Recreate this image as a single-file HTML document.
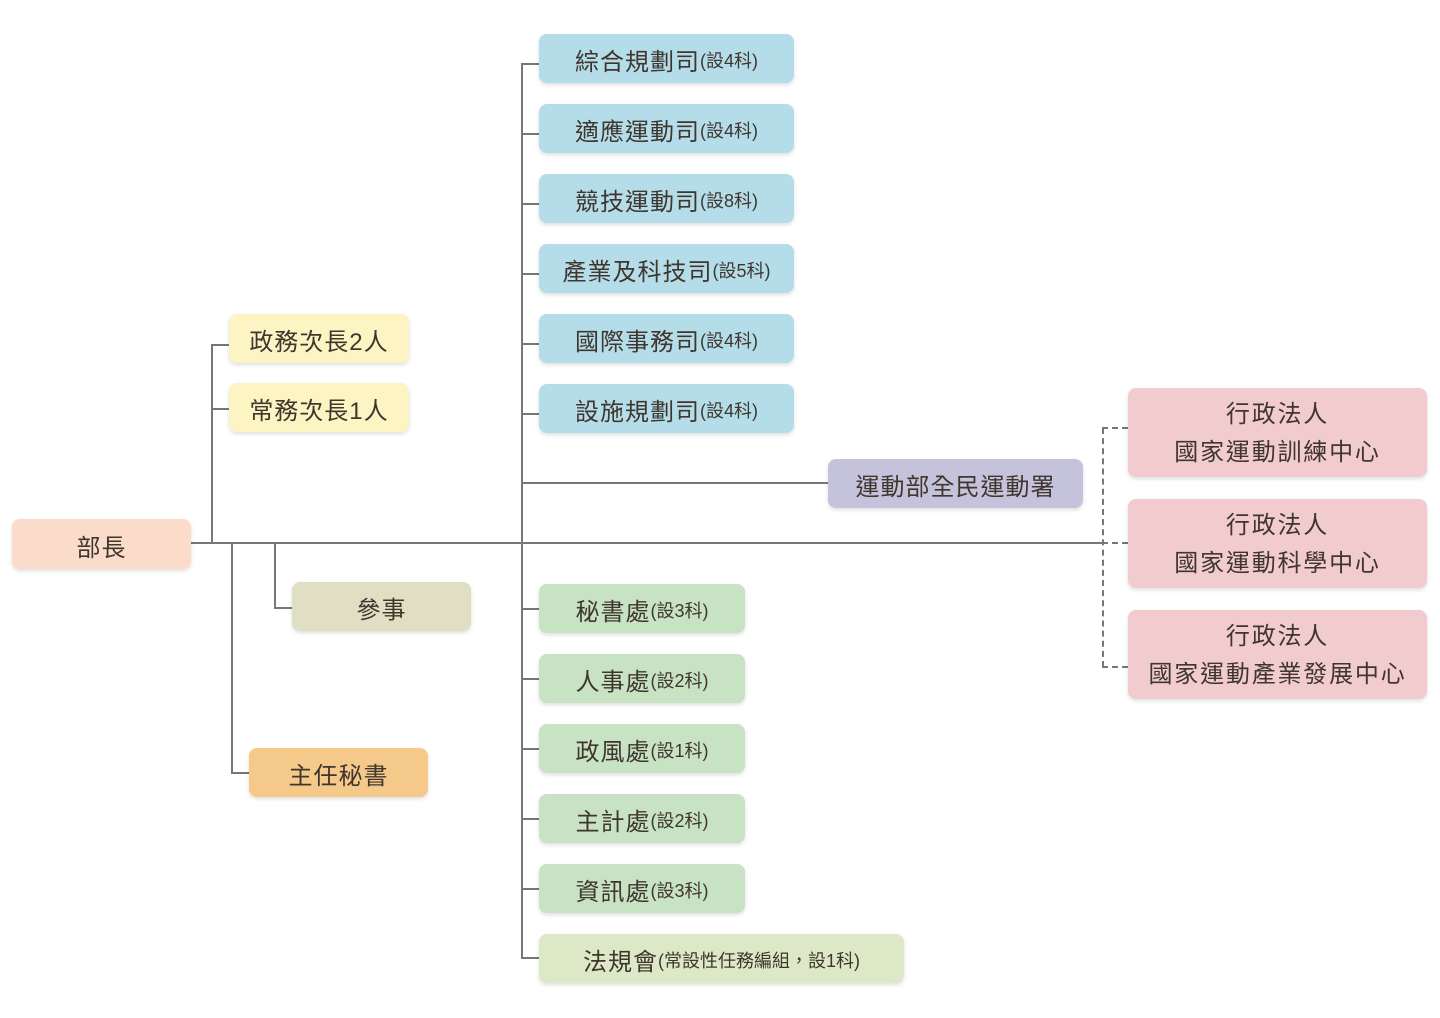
<!DOCTYPE html>
<html><head><meta charset="utf-8"><style>
body{margin:0;width:1440px;height:1018px;background:#fff;position:relative;overflow:hidden;font-family:"Liberation Sans","Noto Sans CJK TC",sans-serif;color:#3f362e}
.b{position:absolute;border-radius:8px;box-shadow:0 2px 4px rgba(0,0,0,.13);display:flex;align-items:center;justify-content:center;font-size:24px;letter-spacing:1px;white-space:nowrap;font-weight:normal;padding-top:2px;box-sizing:border-box}
.b small{font-size:18px;letter-spacing:0}
.h{position:absolute;height:2px;background:#777}
.v{position:absolute;width:2px;background:#777}
.dh{position:absolute;height:0;border-top:2px dashed #777}
.dv{position:absolute;width:0;border-left:2px dashed #777}
.bl{background:#b5dde9;left:539px;width:255px;height:49px}
.gr{background:#c8e2c4;left:539px;width:206px;height:49px}
.pk{background:#f2cbcf;left:1128px;width:299px;height:89px;flex-direction:column;line-height:38px;letter-spacing:1.8px}
</style></head><body>
<div class="h" style="left:191px;top:542px;width:912px"></div>
<div class="v" style="left:211px;top:344px;height:199px"></div>
<div class="h" style="left:211px;top:344px;width:18px"></div>
<div class="h" style="left:211px;top:408px;width:18px"></div>
<div class="v" style="left:231px;top:543px;height:231px"></div>
<div class="h" style="left:231px;top:772px;width:18px"></div>
<div class="v" style="left:274px;top:543px;height:66px"></div>
<div class="h" style="left:274px;top:607px;width:18px"></div>
<div class="v" style="left:521px;top:63px;height:896px"></div>
<div class="h" style="left:521px;top:63px;width:18px"></div>
<div class="h" style="left:521px;top:133px;width:18px"></div>
<div class="h" style="left:521px;top:203px;width:18px"></div>
<div class="h" style="left:521px;top:273px;width:18px"></div>
<div class="h" style="left:521px;top:343px;width:18px"></div>
<div class="h" style="left:521px;top:413px;width:18px"></div>
<div class="h" style="left:521px;top:482px;width:307px"></div>
<div class="h" style="left:521px;top:608px;width:18px"></div>
<div class="h" style="left:521px;top:678px;width:18px"></div>
<div class="h" style="left:521px;top:748px;width:18px"></div>
<div class="h" style="left:521px;top:818px;width:18px"></div>
<div class="h" style="left:521px;top:888px;width:18px"></div>
<div class="h" style="left:521px;top:957px;width:18px"></div>
<div class="dv" style="left:1102px;top:428px;height:239px"></div>
<div class="dh" style="left:1102px;top:427px;width:26px"></div>
<div class="dh" style="left:1102px;top:542px;width:26px"></div>
<div class="dh" style="left:1102px;top:666px;width:26px"></div>
<div class="b" style="left:12px;top:519px;width:179px;height:50px;background:#fbdccb">部長</div>
<div class="b" style="left:229px;top:314px;width:180px;height:49px;background:#fdf4c4">政務次長2人</div>
<div class="b" style="left:229px;top:383px;width:180px;height:49px;background:#fdf4c4">常務次長1人</div>
<div class="b" style="left:292px;top:582px;width:179px;height:49px;background:#e0dfc3">參事</div>
<div class="b" style="left:249px;top:748px;width:179px;height:49px;background:#f5c98a">主任秘書</div>
<div class="b bl" style="top:34px">綜合規劃司<small>(設4科)</small></div>
<div class="b bl" style="top:104px">適應運動司<small>(設4科)</small></div>
<div class="b bl" style="top:174px">競技運動司<small>(設8科)</small></div>
<div class="b bl" style="top:244px">產業及科技司<small>(設5科)</small></div>
<div class="b bl" style="top:314px">國際事務司<small>(設4科)</small></div>
<div class="b bl" style="top:384px">設施規劃司<small>(設4科)</small></div>
<div class="b" style="left:828px;top:459px;width:255px;height:49px;background:#c5c3dc">運動部全民運動署</div>
<div class="b gr" style="top:584px">秘書處<small>(設3科)</small></div>
<div class="b gr" style="top:654px">人事處<small>(設2科)</small></div>
<div class="b gr" style="top:724px">政風處<small>(設1科)</small></div>
<div class="b gr" style="top:794px">主計處<small>(設2科)</small></div>
<div class="b gr" style="top:864px">資訊處<small>(設3科)</small></div>
<div class="b" style="left:539px;top:934px;width:365px;height:49px;background:#dde9c6">法規會<small>(常設性任務編組，設1科)</small></div>
<div class="b pk" style="top:388px"><div>行政法人</div><div>國家運動訓練中心</div></div>
<div class="b pk" style="top:499px"><div>行政法人</div><div>國家運動科學中心</div></div>
<div class="b pk" style="top:610px"><div>行政法人</div><div>國家運動產業發展中心</div></div>
</body></html>
